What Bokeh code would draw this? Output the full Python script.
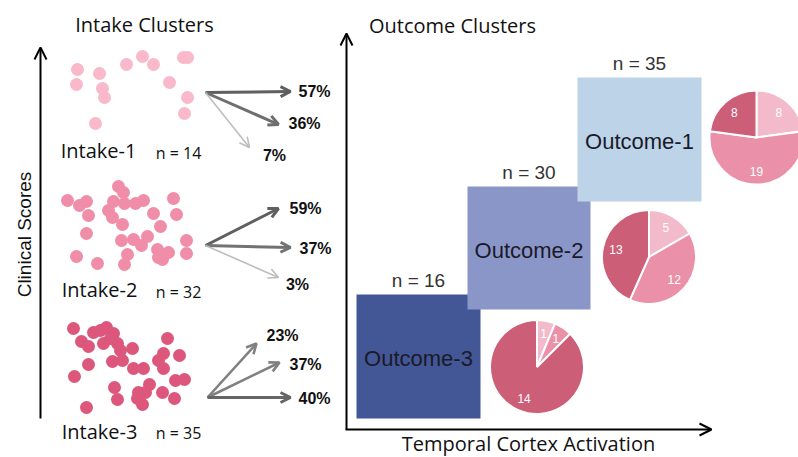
import math
from bokeh.plotting import figure
from bokeh.models import Range1d, Arrow, OpenHead, ColumnDataSource
from bokeh.core.properties import value
from bokeh.embed import file_html
from bokeh.resources import INLINE

# ---------------- data ----------------
intake_names = ["Intake-1", "Intake-2", "Intake-3"]
intake_n = [14, 32, 35]
outcome_names = ["Outcome-1", "Outcome-2", "Outcome-3"]
outcome_n = [35, 30, 16]

# transition percentages from each intake cluster (to Outcome-1, Outcome-2, Outcome-3)
pct_intake1 = [57, 36, 7]
pct_intake2 = [59, 37, 3]
pct_intake3 = [23, 37, 40]

# composition of each outcome cluster by intake cluster (Intake-1, Intake-2, Intake-3)
comp_outcome1 = [8, 19, 8]
comp_outcome2 = [5, 12, 13]
comp_outcome3 = [1, 1, 14]

# scatter positions of the subjects (pixel-like units)
intake1_x = [77, 76, 99, 102, 104, 95, 126, 142, 153, 169, 183, 187, 187, 184]
intake1_y = [69, 84, 73, 88, 97, 123, 64, 56, 64, 82, 57, 57, 97, 113]
intake2_x = [67, 79, 86, 88, 86, 76, 97, 118, 123, 113, 108, 112, 122, 124, 135, 143,
             153, 160, 173, 176, 121, 133, 141, 147, 127, 124, 157, 162, 168, 186, 186, 158]
intake2_y = [200, 205, 201, 215, 233, 256, 263, 186, 192, 201, 210, 217, 224, 203, 203, 200,
             213, 226, 198, 214, 240, 239, 245, 236, 254, 264, 249, 259, 252, 240, 253, 257]
intake3_x = [73, 81, 88, 93, 100, 106, 113, 103, 117, 120, 132, 88, 74, 112, 122, 133, 143, 158,
             163, 167, 179, 163, 175, 184, 114, 117, 138, 149, 162, 142, 174, 86, 145, 137, 110]
intake3_y = [328, 341, 346, 332, 330, 327, 333, 343, 343, 350, 348, 364, 376, 361, 360, 368, 368, 360,
             353, 338, 355, 368, 380, 379, 387, 399, 392, 384, 392, 404, 398, 407, 392, 398, 338]

# ---------------- layout / style ----------------
W, H = 798, 457
IMG_H = 457


def Y(v):
    if isinstance(v, (list, tuple)):
        return [IMG_H - t for t in v]
    return IMG_H - v


p = figure(width=W, height=H, output_backend="svg", toolbar_location=None,
           x_range=Range1d(0, 798), y_range=Range1d(0, 457), min_border=0)
p.axis.visible = False
p.grid.visible = False
p.outline_line_color = None
p.background_fill_color = "white"
p.border_fill_color = "white"

SANS = value("Open Sans")
ARIAL = value("Liberation Sans")

# ---- left panel ----
dot_colors = ["#F9B9CB", "#F08DA9", "#DC577B"]
for xs, ys, c in zip([intake1_x, intake2_x, intake3_x],
                     [intake1_y, intake2_y, intake3_y], dot_colors):
    p.scatter(xs, Y(ys), size=13, fill_color=c, line_color=None)

# arrows from intake clusters
arrow_origins = [(205, 92), (205, 245), (207, 397)]
arrow_ends = [[(290, 91), (278, 124), (249, 147)],
              [(278, 208), (290, 247), (278, 277)],
              [(256, 343), (279, 362), (290, 397)]]
arrow_colors = [["#5f5f5f", "#6e6e6e", "#bdbdbd"],
                ["#5f5f5f", "#727272", "#bdbdbd"],
                ["#808080", "#808080", "#666666"]]
arrow_widths = [[3, 3, 1.6], [3, 3, 1.6], [2.6, 2.6, 3]]
pct_pos = [[(314, 91), (304, 123), (274, 155)],
           [(305, 208), (315, 248), (297, 284)],
           [(282, 335), (305, 364), (314, 398)]]
pcts = [pct_intake1, pct_intake2, pct_intake3]

for (ox, oy), ends, cols, wds in zip(arrow_origins, arrow_ends, arrow_colors, arrow_widths):
    for (ex, ey), c, w in zip(ends, cols, wds):
        p.add_layout(Arrow(x_start=ox, y_start=Y(oy), x_end=ex, y_end=Y(ey),
                           line_color=c, line_width=w,
                           end=OpenHead(size=10, line_color=c, line_width=w)))

px, py, pt = [], [], []
for poss, vals in zip(pct_pos, pcts):
    for (x, y), v in zip(poss, vals):
        px.append(x); py.append(Y(y)); pt.append(f"{v}%")
p.text(px, py, text=pt, text_font=ARIAL, text_font_style="bold", text_font_size="16px",
       text_color="#111111", text_align="center", text_baseline="middle")

# intake labels
intake_label_pos = [(98, 150), (99, 289), (99, 431)]
p.text([q[0] for q in intake_label_pos], Y([q[1] for q in intake_label_pos]), text=intake_names,
       text_font=SANS, text_font_size="20px", text_color="#111111",
       text_align="center", text_baseline="middle")
n_pos = [(178, 152), (178, 291), (178, 432)]
p.text([q[0] for q in n_pos], Y([q[1] for q in n_pos]), text=[f"n = {n}" for n in intake_n],
       text_font=SANS, text_font_size="16px", text_color="#111111",
       text_align="center", text_baseline="middle")

# titles
p.text([144, 452], Y([24, 25]), text=["Intake Clusters", "Outcome Clusters"],
       text_font=SANS, text_font_size="20px", text_color="#111111",
       text_align="center", text_baseline="middle")
p.text([528], Y([443]), text=["Temporal Cortex Activation"],
       text_font=SANS, text_font_size="20px", text_color="#111111",
       text_align="center", text_baseline="middle")
p.text([24], Y([234]), text=["Clinical Scores"], angle=math.pi / 2,
       text_font=ARIAL, text_font_size="19px", text_color="#111111",
       text_align="center", text_baseline="middle")

# axis arrows
for (x0, y0, x1, y1) in [(40, 418, 40, 47), (346, 429, 346, 33), (345, 429, 711, 429)]:
    p.add_layout(Arrow(x_start=x0, y_start=Y(y0), x_end=x1, y_end=Y(y1),
                       line_color="black", line_width=2,
                       end=OpenHead(size=12, line_color="black", line_width=2)))

# ---- right panel: outcome boxes (drawn Outcome-3, Outcome-2, Outcome-1) ----
box_l = [577, 467, 356]
box_r = [701, 590, 480]
box_t = [77, 186, 294]
box_b = [201, 309, 418]
box_colors = ["#BCD3E8", "#8B96C8", "#435695"]
for i in [2, 1, 0]:
    p.quad(left=[box_l[i]], right=[box_r[i]], top=[Y(box_t[i])], bottom=[Y(box_b[i])],
           fill_color=box_colors[i], line_color=None)
box_cx = [(l + r) / 2 for l, r in zip(box_l, box_r)]
box_cy = [(t + b) / 2 for t, b in zip(box_t, box_b)]
p.text(box_cx, Y([c + 2 for c in box_cy]), text=outcome_names, text_font=ARIAL,
       text_font_size="22px", text_color="#1a1a2a", text_align="center", text_baseline="middle")
p.text(box_cx, Y([t - 14 for t in box_t]), text=[f"n = {n}" for n in outcome_n], text_font=ARIAL,
       text_font_size="19px", text_color="#333333", text_align="center", text_baseline="middle")

# ---- pies ----
pie_centers = [(756, 137), (648.5, 256.5), (536.5, 366.5)]
R = 47
slice_colors = ["#F3BACB", "#EB90A9", "#CC5E77"]
lx, ly, lt = [], [], []
for (cx, cy), comp in zip(pie_centers, [comp_outcome1, comp_outcome2, comp_outcome3]):
    tot = sum(comp)
    acc = 0.0
    starts, ends = [], []
    for v in comp:
        a0 = acc / tot * 360
        acc += v
        a1 = acc / tot * 360
        # clockwise from 12 o'clock -> math angles
        starts.append(math.radians(90 - a1))
        ends.append(math.radians(90 - a0))
        mid = math.radians((a0 + a1) / 2)
        lx.append(cx + 0.72 * R * math.sin(mid))
        ly.append(Y(cy - 0.72 * R * math.cos(mid)))
        lt.append(str(v))
    src = ColumnDataSource(dict(x=[cx] * 3, y=[Y(cy)] * 3, s=starts, e=ends, c=slice_colors))
    p.wedge(x="x", y="y", radius=R, start_angle="s", end_angle="e", fill_color="c",
            line_color="white", line_width=2, source=src)
p.text(lx, ly, text=lt, text_font=ARIAL, text_font_size="12px", text_color="white",
       text_align="center", text_baseline="middle")

open("out.html", "w").write(file_html(p, INLINE))
